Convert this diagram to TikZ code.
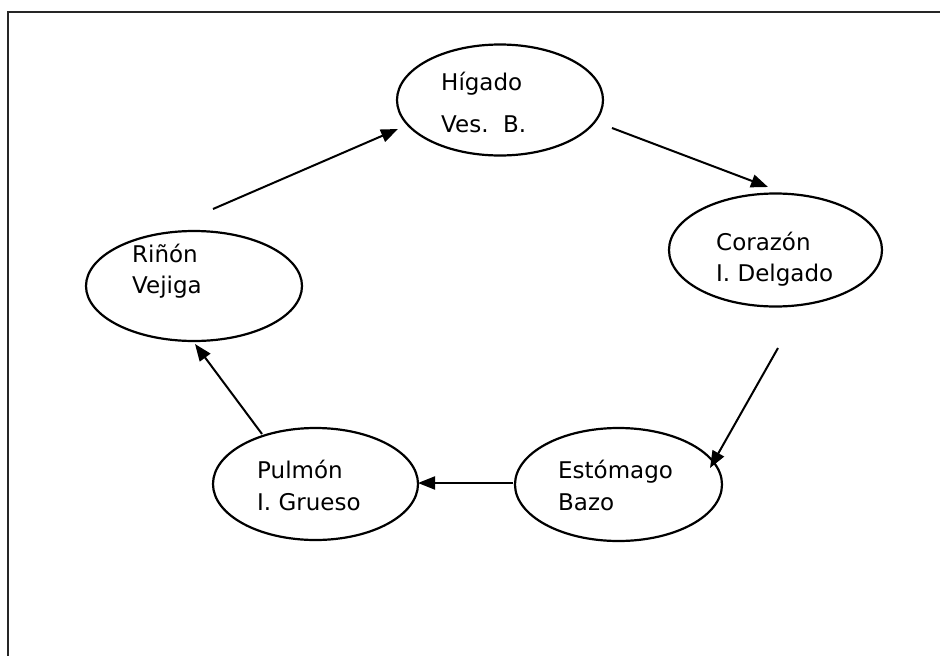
\documentclass[tikz,border=0pt]{standalone}
\usepackage{fontspec}
\setmainfont{DejaVu Sans}
\usetikzlibrary{arrows.meta,shapes.geometric}
\begin{document}
\begin{tikzpicture}[x=1pt,y=-1pt,
  organ/.style={draw, ellipse, line width=2.2pt, inner sep=0pt},
  organtext/.style={anchor=base west, inner sep=0pt, font=\fontsize{23}{27}\selectfont},
  flow/.style={line width=2pt, -{Triangle[length=17pt,width=13pt]}}]
  \useasboundingbox (0,0) rectangle (940,656);
  % page frame (only top and left edges fall inside the picture)
  \draw[line width=2.4pt, black!85] (8,656) -- (8,12) -- (940,12);

  % organ ellipses
  \node[organ, minimum width=206pt, minimum height=111pt] (higado)   at (500,100) {};
  \node[organ, minimum width=213pt, minimum height=113pt] (corazon)  at (775.5,250) {};
  \node[organ, minimum width=207pt, minimum height=113pt] (estomago) at (618.5,484.5) {};
  \node[organ, minimum width=205pt, minimum height=112pt] (pulmon)   at (315.5,484) {};
  \node[organ, minimum width=216pt, minimum height=110pt] (rinon)    at (194,286) {};

  % labels
  \node[organtext] (t1a) at (441,90)  {Hígado};
  \node[organtext] (t1b) at (441,132) {Ves.\ \ B.};
  \node[organtext] (t2a) at (716,250) {Corazón};
  \node[organtext] (t2b) at (716,281) {I. Delgado};
  \node[organtext] (t3a) at (558,478) {Estómago};
  \node[organtext] (t3b) at (558,510) {Bazo};
  \node[organtext] (t4a) at (257,478) {Pulmón};
  \node[organtext] (t4b) at (257,510) {I. Grueso};
  \node[organtext] (t5a) at (132,262) {Riñón};
  \node[organtext] (t5b) at (132,293) {Vejiga};

  % arrow end points
  \coordinate (r-out) at (213,209);  \coordinate (h-in) at (398,129);
  \coordinate (h-out) at (612,128);  \coordinate (c-in) at (768,187);
  \coordinate (c-out) at (778,348);  \coordinate (e-in) at (710,468);
  \coordinate (e-out) at (513,483);  \coordinate (p-in) at (418,483);
  \coordinate (p-out) at (262,434);  \coordinate (r-in) at (195,344);

  % cycle
  \draw[flow] (r-out) -- (h-in);
  \draw[flow] (h-out) -- (c-in);
  \draw[flow] (c-out) -- (e-in);
  \draw[flow] (e-out) -- (p-in);
  \draw[flow] (p-out) -- (r-in);
\end{tikzpicture}
\end{document}
